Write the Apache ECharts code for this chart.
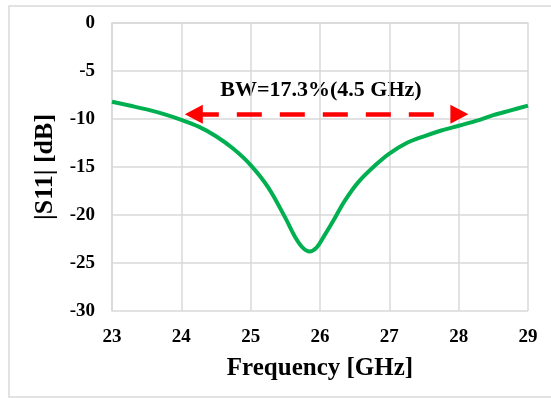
<!DOCTYPE html>
<html>
<head>
<meta charset="utf-8">
<script src="https://cdn.jsdelivr.net/npm/echarts@6/dist/echarts.min.js"></script>
<style>
  html, body { margin: 0; padding: 0; background: #fff; }
  #chart { width: 551px; height: 398px; }
</style>
</head>
<body>
<div id="chart"></div>
<script>
  // S11 curve
  var freq = [23, 23.25, 23.5, 23.75, 24, 24.25, 24.5, 24.75, 25, 25.25, 25.5, 25.65, 25.75, 25.85,
              25.95, 26.05, 26.2, 26.35, 26.55, 26.8, 27, 27.25, 27.5, 27.75, 28, 28.25, 28.5, 28.75, 29];
  var s11 = [-8.2, -8.6, -9.0, -9.5, -10.1, -10.8, -11.8, -13.1, -14.8, -17.1, -20.3, -22.4, -23.4, -23.8,
             -23.4, -22.3, -20.5, -18.6, -16.6, -14.8, -13.6, -12.5, -11.8, -11.2, -10.7, -10.2, -9.6, -9.1, -8.6];

  // bandwidth arrow (centres of the two arrow heads)
  var bwStart = 24.18;
  var bwEnd = 28.01;
  var bwLevel = -9.5;
  var bwText = 'BW=17.3%(4.5 GHz)';

  var serif = '"Liberation Serif", "Times New Roman", serif';
  var gridColor = '#d9d9d9';

  var chart = echarts.init(document.getElementById('chart'));

  var curve = [];
  for (var i = 0; i < freq.length; i++) {
    curve.push([freq[i], s11[i]]);
  }

  var option = {
    animation: false,
    grid: { left: 112, top: 23, width: 416, height: 288 },
    xAxis: {
      type: 'value',
      min: 23, max: 29, interval: 1,
      name: 'Frequency [GHz]',
      nameLocation: 'middle',
      nameGap: 45,
      nameTextStyle: { fontFamily: serif, fontWeight: 'bold', fontSize: 25, color: '#000' },
      axisLine: { show: true, lineStyle: { color: gridColor, width: 1.5 } },
      axisTick: { show: false },
      axisLabel: { fontFamily: serif, fontWeight: 'bold', fontSize: 19, color: '#000', margin: 17 },
      splitLine: { show: true, lineStyle: { color: gridColor, width: 1.5 } }
    },
    yAxis: {
      type: 'value',
      min: -30, max: 0, interval: 5,
      name: '|S11| [dB]',
      nameLocation: 'middle',
      nameGap: 54,
      nameTextStyle: { fontFamily: serif, fontWeight: 'bold', fontSize: 26, color: '#000' },
      axisLine: { show: true, lineStyle: { color: gridColor, width: 1.5 } },
      axisTick: { show: false },
      axisLabel: { fontFamily: serif, fontWeight: 'bold', fontSize: 19, color: '#000', margin: 17 },
      splitLine: { show: true, lineStyle: { color: gridColor, width: 1.5 } }
    },
    series: [
      {
        type: 'line',
        data: curve,
        smooth: 0.35,
        showSymbol: false,
        lineStyle: { color: '#00b050', width: 4 },
        markLine: {
          silent: true,
          symbol: ['triangle', 'triangle'],
          symbolSize: [19, 18],
          label: { show: false },
          lineStyle: { color: '#ff0000', width: 4.5, type: [25, 18] },
          data: [[{ coord: [bwStart, bwLevel] }, { coord: [bwEnd, bwLevel] }]]
        }
      }
    ],
    graphic: [
      {
        type: 'rect',
        shape: { x: 9, y: 6, width: 545, height: 391 },
        style: { fill: null, stroke: gridColor, lineWidth: 1.5 },
        silent: true
      },
      {
        type: 'text',
        x: 321, y: 90,
        style: {
          text: bwText,
          font: 'bold 22px ' + serif,
          fill: '#000',
          align: 'center',
          verticalAlign: 'middle'
        }
      }
    ]
  };

  chart.setOption(option);
</script>
</body>
</html>
